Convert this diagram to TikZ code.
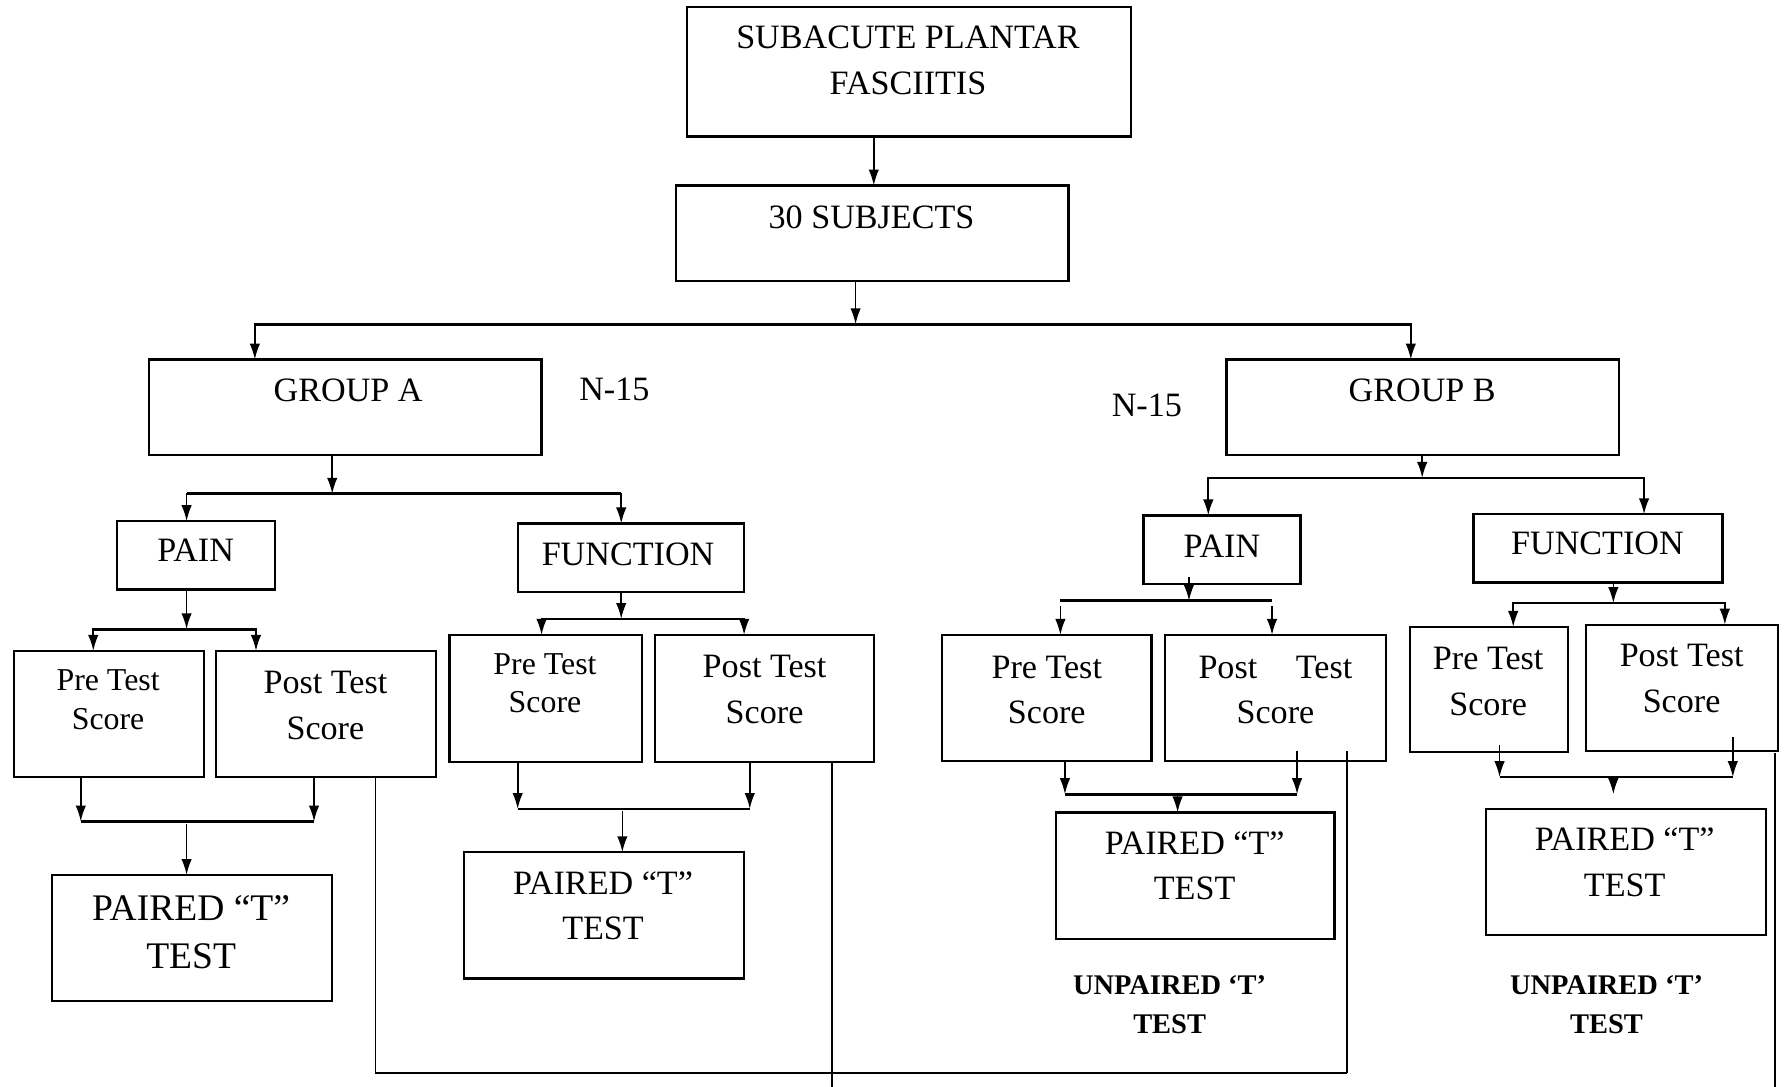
\documentclass[tikz,border=0pt]{standalone}
\usepackage{fontspec}
\setmainfont{Liberation Serif}
\usetikzlibrary{arrows.meta}
\newcommand\fsz[2]{\fontsize{#1}{#2}\selectfont}
\newcommand\flowbox[5]{\node[bx, minimum width={(#4-#2)*0.5pt}, minimum height={(#5-#3)*0.5pt}] (#1) at ({(#2+#4)/2},{(#3+#5)/2}) {};}
\begin{document}
\begin{tikzpicture}[x=0.5pt,y=-0.5pt,
  bx/.style={draw, line width=1pt, inner sep=0pt, outer sep=0pt},
  arr/.style={-{Latex[length=7pt,width=4.6pt]}, line width=0.75pt},
  ln/.style={line width=1.2pt},
  lv/.style={line width=0.8pt},
  tx/.style={align=center, inner sep=0pt, font=\fsz{15}{20}},
  txs/.style={align=center, inner sep=0pt, font=\fsz{14}{17}},
  txb/.style={align=center, inner sep=0pt, font=\fsz{12.5}{17}\bfseries}]
\useasboundingbox (0,0) rectangle (1568,955);

% boxes
\flowbox{sub}{604}{6}{994}{120}
\flowbox{subj}{594}{163}{939}{247}
\flowbox{ga}{131}{316}{476}{400}
\flowbox{gb}{1078}{316}{1423}{400}
\flowbox{painA}{103}{458}{242}{518}
\flowbox{funA}{455}{460}{654}{520}
\flowbox{preA1}{12}{572}{179}{683}
\flowbox{postA1}{190}{572}{383}{683}
\flowbox{prA1}{46}{769}{292}{880}
\flowbox{preA2}{395}{558}{564}{670}
\flowbox{postA2}{576}{558}{768}{670}
\flowbox{prA2}{408}{749}{654}{860}
\flowbox{painB}{1005}{453}{1143}{513}
\flowbox{funB}{1295}{452}{1514}{512}
\flowbox{preB1}{828}{558}{1012}{669}
\flowbox{postB1}{1024}{558}{1218}{669}
\flowbox{prB1}{928}{714}{1173}{825}
\flowbox{preB2}{1239}{551}{1378}{661}
\flowbox{postB2}{1394}{549}{1563}{660}
\flowbox{prB2}{1306}{711}{1552}{822}

% texts
\node[tx] (subT) at (798,53) {SUBACUTE PLANTAR\\FASCIITIS};
\node[tx] (subjT) at (766,191) {30 SUBJECTS};
\node[tx] (gaT) at (306,343) {GROUP A};
\node[tx] (nA) at (540,342) {N-15};
\node[tx] (nB) at (1008,356) {N-15};
\node[tx] (gbT) at (1250,343) {GROUP B};
\node[tx] (painAT) at (172,484) {PAIN};
\node[tx] (funAT) at (552,487) {FUNCTION};
\node[txs] (preA1T) at (95,615) {Pre Test\\Score};
\node[tx] (postA1T) at (286,620) {Post Test\\Score};
\node[tx, font=\fsz{16.5}{21}] (prA1T) at (168,819) {PAIRED “T”\\TEST};
\node[txs, font=\fsz{14}{16.5}] (preA2T) at (479,600.5) {Pre Test\\Score};
\node[tx] (postA2T) at (672,606) {Post Test\\Score};
\node[tx] (prA2T) at (530,796) {PAIRED “T”\\TEST};
\node[tx] (painBT) at (1074,480) {PAIN};
\node[tx] (funBT) at (1404,478) {FUNCTION};
\node[tx] (preB1T) at (920,606.5) {Pre Test\\Score};
\node[tx] (postB1T) at (1121,606.5) {Post\hspace{17pt}Test\\Score};
\node[tx] (prB1T) at (1050,761) {PAIRED “T”\\TEST};
\node[txb] (unpB1) at (1028,883) {UNPAIRED ‘T’\\TEST};
\node[tx] (preB2T) at (1308,599) {Pre Test\\Score};
\node[tx] (postB2T) at (1478,596.5) {Post Test\\Score};
\node[tx] (prB2T) at (1428,758) {PAIRED “T”\\TEST};
\node[txb] (unpB2) at (1412,883) {UNPAIRED ‘T’\\TEST};

% top connectors
\draw[arr] (768,0 |- sub.south) -- (768,0 |- subj.north);
\coordinate (j1) at (752,285);
\draw[arr] (752,0 |- subj.south) -- (j1);
\draw[ln] (224,285) -- (1240,285);
\draw[arr] (j1) -| (224,0 |- ga.north);
\draw[arr] (j1) -| (1240,0 |- gb.north);

% group A
\coordinate (j2) at (292,434);
\draw[arr] (292,0 |- ga.south) -- (j2);
\draw[ln] (164,434) -- (546,434);
\draw[arr] (j2) -| (164,0 |- painA.north);
\draw[arr] (j2) -| (546,0 |- funA.north);

\coordinate (j3) at (164,553);
\draw[arr] (164,0 |- painA.south) -- (j3);
\draw[ln] (82,553) -- (225,553);
\draw[arr] (j3) -| (82,0 |- preA1.north);
\draw[arr] (j3) -| (225,0 |- postA1.north);

\coordinate (j4) at (71,722);
\coordinate (j4b) at (276,722);
\coordinate (j4c) at (164,724);
\draw[arr] (71,0 |- preA1.south) -- (j4);
\draw[arr] (276,0 |- postA1.south) -- (j4b);
\draw[ln] (j4) -- (j4b);
\draw[arr] (j4c) -- (164,0 |- prA1.north);

\coordinate (j5) at (546,544);
\draw[arr] (546,0 |- funA.south) -- (j5);
\draw[ln] (476,544) -- (654,544);
\draw[arr] (j5) -| (476,0 |- preA2.north);
\draw[arr] (j5) -| (654,0 |- postA2.north);

\coordinate (j6) at (455,711);
\coordinate (j6b) at (659,711);
\coordinate (j6c) at (547,713);
\draw[arr] (455,0 |- preA2.south) -- (j6);
\draw[arr] (659,0 |- postA2.south) -- (j6b);
\draw[ln] (j6) -- (j6b);
\draw[arr] (j6c) -- (547,0 |- prA2.north);

% group B
\coordinate (j7) at (1250,420);
\draw[arr] (1250,0 |- gb.south) -- (j7);
\draw[ln] (1062,420) -- (1445,420);
\draw[arr] (j7) -| (1062,0 |- painB.north);
\draw[arr] (j7) -| (1445,0 |- funB.north);

\coordinate (pbs) at (1045,507);
\coordinate (j8) at (1045,528);
\coordinate (j8a) at (932,528);
\coordinate (j8b) at (1118,528);
\coordinate (j8c) at (932,533);
\coordinate (j8d) at (1118,533);
\draw[arr] (pbs) -- (j8);
\draw[ln] (j8a) -- (j8b);
\draw[arr] (j8c) -- (932,0 |- preB1.north);
\draw[arr] (j8d) -- (1118,0 |- postB1.north);

\coordinate (j9) at (936,698);
\coordinate (j9b) at (1140,698);
\coordinate (pb1s) at (1140,660);
\coordinate (j9c) at (1035,698);
\draw[arr] (936,0 |- preB1.south) -- (j9);
\draw[arr] (pb1s) -- (j9b);
\draw[ln] (j9) -- (j9b);
\draw[arr] (j9c) -- (1035,0 |- prB1.north);

\coordinate (j10) at (1418,530);
\draw[arr] (1418,0 |- funB.south) -- (j10);
\draw[ln] (1330,530) -- (1516,530);
\draw[arr] (j10) -| (1330,0 |- preB2.north);
\draw[arr] (j10) -| (1516,0 |- postB2.north);

\coordinate (pr2s) at (1318,655);
\coordinate (po2s) at (1523,648);
\coordinate (j11) at (1318,683);
\coordinate (j11b) at (1523,683);
\coordinate (j11c) at (1418,683);
\coordinate (j11d) at (1418,698);
\draw[arr] (pr2s) -- (j11);
\draw[arr] (po2s) -- (j11b);
\draw[ln] (j11) -- (j11b);
\draw[arr] (j11c) -- (j11d);

% long connectors
\coordinate (c1) at (330,943);
\coordinate (c2) at (1184,943);
\coordinate (c3) at (1184,660);
\draw[lv] (330,0 |- postA1.south) -- (c1);
\draw[ln] (c1) -- (c2);
\draw[lv] (c2) -- (c3);
\coordinate (c4) at (731,955);
\draw[lv] (731,0 |- postA2.south) -- (c4);
\coordinate (c5) at (1560,662);
\coordinate (c6) at (1560,955);
\draw[lv] (c5) -- (c6);
\end{tikzpicture}
\end{document}
